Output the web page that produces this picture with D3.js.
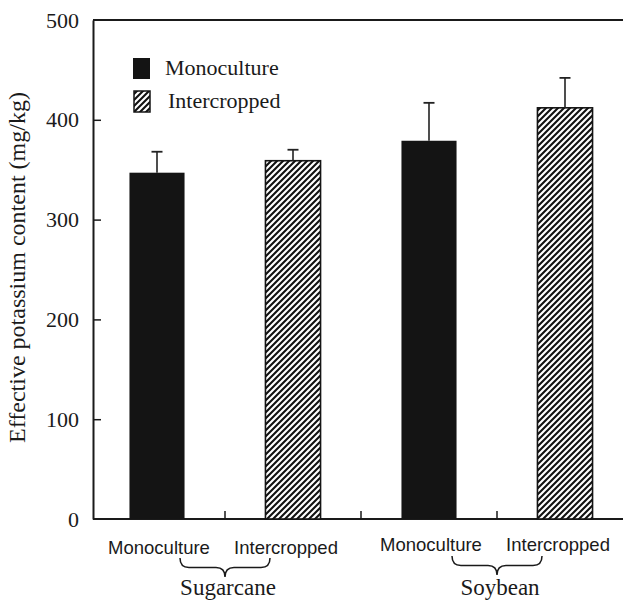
<!DOCTYPE html>
<html>
<head>
<meta charset="utf-8">
<script src="https://cdn.jsdelivr.net/npm/d3@7"></script>
<style>
  html, body { margin: 0; padding: 0; background: #fff; }
  svg { display: block; }
</style>
</head>
<body>
<div id="chart"></div>
<script>
// ---- data ----
const groups = ["Sugarcane", "Soybean"];
const treatments = ["Monoculture", "Intercropped"];
const means = [347, 359, 379, 412];     // Sugarcane-Mono, Sugarcane-Inter, Soybean-Mono, Soybean-Inter
const errors = [21, 11, 38, 30];
const yTicks = [0, 100, 200, 300, 400, 500];
const yLabel = "Effective potassium content (mg/kg)";

const W = 623, H = 602;
const mLeft = 93, mBottom = 519, mTop = 20;

const rows = [];
groups.forEach((g, gi) => treatments.forEach((t, ti) => {
  const i = gi * treatments.length + ti;
  rows.push({ key: g + "|" + t, group: g, treatment: t, ti, value: means[i], err: errors[i] });
}));

const svg = d3.select("#chart").append("svg").attr("width", W).attr("height", H);

const defs = svg.append("defs");
const pat = defs.append("pattern").attr("id", "hatch")
  .attr("patternUnits", "userSpaceOnUse").attr("width", 6).attr("height", 6);
pat.append("rect").attr("width", 6).attr("height", 6).attr("fill", "#fff");
pat.append("path")
  .attr("d", "M-1.5,1.5 L1.5,-1.5 M0,6 L6,0 M4.5,7.5 L7.5,4.5")
  .attr("stroke", "#111").attr("stroke-width", 2.1);

const y = d3.scaleLinear().domain([0, 500]).range([mBottom, mTop]);
const x = d3.scaleBand().domain(rows.map(r => r.key)).range([89, 633])
  .paddingInner(0.595).paddingOuter(0.2975);
const step = x.step(), bw = x.bandwidth();

const ink = "#1a1a1a";

// top frame line
svg.append("line").attr("x1", mLeft).attr("x2", W).attr("y1", y(500)).attr("y2", y(500))
  .attr("stroke", ink).attr("stroke-width", 2);

// y axis
const yAxis = svg.append("g").attr("transform", `translate(${mLeft},0)`)
  .call(d3.axisLeft(y).tickValues(yTicks).tickSizeInner(-8).tickSizeOuter(0).tickPadding(14));
yAxis.select(".domain").attr("stroke", ink).attr("stroke-width", 2);
yAxis.selectAll(".tick line").attr("stroke", ink).attr("stroke-width", 1.5);
yAxis.selectAll(".tick text").attr("font-family", "'Liberation Serif', 'Times New Roman', serif")
  .attr("font-size", 22).attr("fill", ink);
yAxis.selectAll(".tick").filter(d => d === 500 || d === 0).select("line").remove();

// x axis line
svg.append("line").attr("x1", mLeft).attr("x2", W).attr("y1", mBottom).attr("y2", mBottom)
  .attr("stroke", ink).attr("stroke-width", 2);
// x ticks at band boundaries
const bounds = rows.slice(0, -1).map(r => x(r.key) + bw + step * x.paddingInner() / 2);
svg.selectAll(".xtick").data(bounds).enter().append("line")
  .attr("x1", d => d).attr("x2", d => d).attr("y1", mBottom).attr("y2", mBottom - 8)
  .attr("stroke", ink).attr("stroke-width", 1.5);

// bars
svg.selectAll(".bar").data(rows).enter().append("rect")
  .attr("x", d => x(d.key)).attr("width", bw)
  .attr("y", d => y(d.value)).attr("height", d => y(0) - y(d.value))
  .attr("fill", d => d.ti === 0 ? "#141414" : "url(#hatch)")
  .attr("stroke", d => d.ti === 0 ? "none" : "#141414")
  .attr("stroke-width", 1.6);

// error bars
const eb = svg.selectAll(".err").data(rows).enter().append("g");
eb.append("line")
  .attr("x1", d => x(d.key) + bw / 2).attr("x2", d => x(d.key) + bw / 2)
  .attr("y1", d => y(d.value)).attr("y2", d => y(d.value + d.err))
  .attr("stroke", "#222").attr("stroke-width", 1.6);
eb.append("line")
  .attr("x1", d => x(d.key) + bw / 2 - 5.5).attr("x2", d => x(d.key) + bw / 2 + 5.5)
  .attr("y1", d => y(d.value + d.err)).attr("y2", d => y(d.value + d.err))
  .attr("stroke", "#222").attr("stroke-width", 1.8);

// category labels
svg.selectAll(".cat").data(rows).enter().append("text")
  .attr("x", d => x(d.key) + bw / 2 + (d.ti === 0 ? 2 : -7))
  .attr("y", d => groups.indexOf(d.group) === 0 ? 554 : 551)
  .attr("text-anchor", "middle")
  .attr("font-family", "'Liberation Sans', Arial, sans-serif").attr("font-size", 18.5)
  .attr("fill", ink).text(d => d.treatment);

// braces and group labels
groups.forEach((g, gi) => {
  const a = rows.find(r => r.group === g && r.ti === 0);
  const xm = x(a.key) + bw + step * x.paddingInner() / 2;
  const x0 = xm - 45, x1 = xm + 45, y0 = gi === 0 ? 558 : 556, h = 19, r = 9;
  const ym = y0 + h / 2;
  const p = `M${x0},${y0} Q${x0},${ym} ${x0 + r},${ym} L${xm - r},${ym} Q${xm},${ym} ${xm},${y0 + h} ` +
            `Q${xm},${ym} ${xm + r},${ym} L${x1 - r},${ym} Q${x1},${ym} ${x1},${y0}`;
  svg.append("path").attr("d", p).attr("fill", "none").attr("stroke", ink).attr("stroke-width", 1.5);
  svg.append("text").attr("x", xm + 3).attr("y", 595).attr("text-anchor", "middle")
    .attr("font-family", "'Liberation Serif', 'Times New Roman', serif").attr("font-size", 23)
    .attr("fill", ink).text(g);
});

// y label
svg.append("text")
  .attr("transform", `translate(25,${(mTop + mBottom) / 2 - 2}) rotate(-90)`)
  .attr("text-anchor", "middle")
  .attr("font-family", "'Liberation Serif', 'Times New Roman', serif").attr("font-size", 24)
  .attr("fill", ink).text(yLabel);

// legend
const lg = svg.append("g");
treatments.forEach((t, i) => {
  const ly = 58 + i * 33;
  lg.append("rect").attr("x", 133 + i).attr("y", ly).attr("width", 17 - i).attr("height", 21)
    .attr("fill", i === 0 ? "#141414" : "url(#hatch)")
    .attr("stroke", i === 0 ? "none" : "#141414").attr("stroke-width", 1.5);
  lg.append("text").attr("x", 165 + i * 3).attr("y", ly + 17)
    .attr("font-family", "'Liberation Serif', 'Times New Roman', serif").attr("font-size", 22)
    .attr("fill", ink).text(t);
});
</script>
</body>
</html>
